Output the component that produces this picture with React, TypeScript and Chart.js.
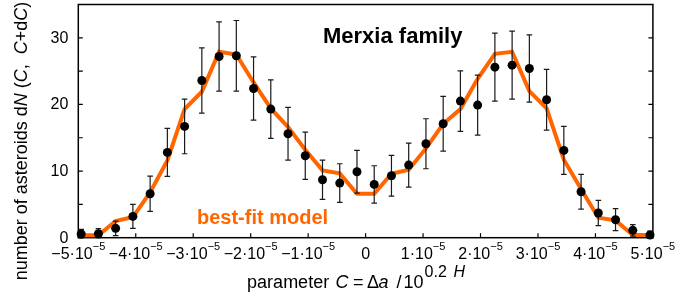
import React, { useEffect, useRef } from "react";
import { Chart, registerables } from "chart.js";

Chart.register(...registerables);

// bin centres, in units of 1e-5
const binCenters = [
  -4.95, -4.65, -4.35, -4.05, -3.75, -3.45, -3.15, -2.85, -2.55, -2.25, -1.95, -1.65,
  -1.35, -1.05, -0.75, -0.45, -0.15, 0.15, 0.45, 0.75, 1.05, 1.35, 1.65, 1.95, 2.25,
  2.55, 2.85, 3.15, 3.45, 3.75, 4.05, 4.35, 4.65, 4.95,
];
const observed = [
  0.55, 0.6, 1.4, 3.2, 6.6, 12.8, 16.7, 23.6, 27.2, 27.3, 22.4, 19.3, 15.6, 12.3, 8.7,
  8.2, 9.9, 8.0, 9.3, 10.9, 14.1, 17.1, 20.5, 19.9, 25.6, 25.9, 25.4, 20.7, 13.1, 6.9,
  3.7, 2.7, 1.1, 0.4,
];
const errors = [
  0.7, 0.75, 1.1, 1.8, 2.65, 3.6, 4.1, 4.9, 5.2, 5.3, 4.75, 4.4, 3.95, 3.55, 2.95, 2.9,
  3.2, 2.8, 3.05, 3.3, 3.75, 4.1, 4.55, 4.5, 5.1, 5.1, 5.05, 4.55, 3.6, 2.6, 1.9, 1.65,
  0.85, 0.6,
];
const model = [
  0.35, 0.35, 2.5, 3.1, 6.8, 11.6, 19.3, 21.9, 27.9, 27.5, 23.3, 19.4, 16.6, 13.2, 10.1,
  9.65, 6.6, 6.6, 9.6, 10.2, 13.4, 17.1, 19.3, 23.85, 27.6, 27.9, 22.0, 19.4, 11.7, 7.3,
  3.0, 2.6, 0.4, 0.4,
];

const xTickValues = [-5, -4, -3, -2, -1, 0, 1, 2, 3, 4, 5];
const xTickBase = ["\u22125\u00b710", "\u22124\u00b710", "\u22123\u00b710", "\u22122\u00b710", "\u22121\u00b710", "0", "1\u00b710", "2\u00b710", "3\u00b710", "4\u00b710", "5\u00b710"];
const xTickExp = ["\u22125", "\u22125", "\u22125", "\u22125", "\u22125", "", "\u22125", "\u22125", "\u22125", "\u22125", "\u22125"];
const yTickValues = [0, 10, 20, 30];
const yMinorValues = [5, 15, 25, 35];
const yTickLabels = ["0", "10", "20", "30"];

const titleText = "Merxia family";
const modelLabel = "best-fit model";

const FONT = '"Liberation Sans", Arial, Helvetica, sans-serif';
const ORANGE = "#ff6600";

type Seg = [string, string]; // text, font

function drawSegs(ctx: CanvasRenderingContext2D, segs: Seg[], x: number, y: number, align: "center" | "left") {
  let total = 0;
  const ws = segs.map(([t, f]) => {
    ctx.font = f;
    const w = ctx.measureText(t).width;
    total += w;
    return w;
  });
  let cx = align === "center" ? x - total / 2 : x;
  segs.forEach(([t, f], i) => {
    ctx.font = f;
    ctx.fillText(t, cx, y);
    cx += ws[i];
  });
}

const decor = {
  id: "decor",
  beforeDatasetsDraw(chart: any) {
    const { ctx, chartArea: a } = chart;
    ctx.save();
    ctx.strokeStyle = "#000";
    ctx.lineWidth = 1.5;
    ctx.strokeRect(a.left, a.top, a.right - a.left, a.bottom - a.top);
    ctx.restore();
  },
  beforeDatasetDraw(chart: any, args: any) {
    if (args.index !== 1) return;
    const { ctx, scales } = chart;
    const x = scales.x, y = scales.y;
    ctx.save();
    ctx.strokeStyle = "#1a1a1a";
    ctx.lineWidth = 1.2;
    binCenters.forEach((c, i) => {
      const px = x.getPixelForValue(c);
      const top = y.getPixelForValue(observed[i] + errors[i]);
      const bot = y.getPixelForValue(Math.max(0, observed[i] - errors[i]));
      ctx.beginPath();
      ctx.moveTo(px, top);
      ctx.lineTo(px, bot);
      ctx.moveTo(px - 2.8, top);
      ctx.lineTo(px + 2.8, top);
      ctx.moveTo(px - 2.8, bot);
      ctx.lineTo(px + 2.8, bot);
      ctx.stroke();
    });
    ctx.restore();
  },
  afterDraw(chart: any) {
    const { ctx, chartArea: a, scales } = chart;
    const x = scales.x, y = scales.y;
    ctx.save();
    ctx.strokeStyle = "#000";
    ctx.lineWidth = 1.2;
    const tl = 4.5;
    // y ticks (left and right, inward)
    [...yTickValues, ...yMinorValues].forEach((v) => {
      const py = y.getPixelForValue(v);
      ctx.beginPath();
      ctx.moveTo(a.left, py);
      ctx.lineTo(a.left + tl, py);
      ctx.moveTo(a.right, py);
      ctx.lineTo(a.right - tl, py);
      ctx.stroke();
    });
    // x ticks (bottom, inward)
    xTickValues.forEach((v) => {
      const px = x.getPixelForValue(v);
      ctx.beginPath();
      ctx.moveTo(px, a.bottom);
      ctx.lineTo(px, a.bottom - tl);
      ctx.stroke();
    });
    ctx.fillStyle = "#000";
    // y tick labels
    ctx.textAlign = "right";
    ctx.textBaseline = "middle";
    ctx.font = `16px ${FONT}`;
    yTickValues.forEach((v, i) => {
      ctx.fillText(yTickLabels[i], a.left - 10, y.getPixelForValue(v) + 0.5);
    });
    // x tick labels
    ctx.textAlign = "left";
    ctx.textBaseline = "alphabetic";
    xTickValues.forEach((v, i) => {
      const px = x.getPixelForValue(v);
      ctx.font = `16px ${FONT}`;
      const wb = ctx.measureText(xTickBase[i]).width;
      ctx.font = `11px ${FONT}`;
      const we = ctx.measureText(xTickExp[i]).width;
      const sx = px - (wb + we) / 2;
      ctx.font = `16px ${FONT}`;
      ctx.fillText(xTickBase[i], sx, 258.5);
      ctx.font = `11px ${FONT}`;
      ctx.fillText(xTickExp[i], sx + wb, 249.5);
    });
    // x axis title, laid out piece by piece relative to the plot centre
    const N = `18px ${FONT}`;
    const I = `italic 18px ${FONT}`;
    const SN = `16px ${FONT}`;
    const SI = `italic 16px ${FONT}`;
    const c0 = (a.left + a.right) / 2;
    const xl: [string, string, number, number][] = [
      ["parameter", N, -118.5, 287.5],
      ["C", I, -30, 287.5],
      ["=", N, -12.5, 287.5],
      ["\u0394", N, 1.5, 287.5],
      ["a", I, 13, 287.5],
      ["/", N, 31, 287.5],
      ["10", N, 38, 287.5],
      ["0.2", SN, 59, 276.5],
      ["H", SI, 88, 276.5],
    ];
    xl.forEach(([t, f, dx, by]) => {
      ctx.font = f;
      ctx.fillText(t, c0 + dx, by);
    });
    // y axis title
    ctx.save();
    ctx.translate(27, 141);
    ctx.rotate(-Math.PI / 2);
    drawSegs(ctx, [
      ["number of asteroids d", N], ["N", I], [" (", N], ["C", I], [",  ", N],
      ["C", I], ["+d", N], ["C", I], [")", N],
    ], 0, 0, "center");
    ctx.restore();
    // title and model label
    ctx.font = `bold 22px ${FONT}`;
    ctx.fillText(titleText, 323, 42.5);
    ctx.fillStyle = ORANGE;
    ctx.font = `bold 20px ${FONT}`;
    ctx.fillText(modelLabel, 197, 224);
    ctx.restore();
  },
};

export default function App() {
  const ref = useRef<HTMLCanvasElement | null>(null);
  useEffect(() => {
    if (!ref.current) return;
    const chart = new Chart(ref.current, {
      type: "scatter",
      data: {
        datasets: [
          {
            type: "line",
            label: "model",
            data: binCenters.map((c, i) => ({ x: c, y: model[i] })),
            borderColor: ORANGE,
            borderWidth: 4,
            pointRadius: 0,
            tension: 0,
            fill: false,
            clip: false,
            order: 1,
          } as any,
          {
            type: "scatter",
            label: "observed",
            data: binCenters.map((c, i) => ({ x: c, y: observed[i] })),
            backgroundColor: "#000",
            borderColor: "#000",
            pointRadius: 4.5,
            borderWidth: 0,
            clip: false,
            order: 0,
          } as any,
        ],
      },
      options: {
        animation: false,
        responsive: false,
        devicePixelRatio: 1,
        events: [],
        layout: { padding: { left: 78.3, right: 23.1, top: 0.5, bottom: 66.3 } },
        plugins: { legend: { display: false }, tooltip: { enabled: false } },
        scales: {
          x: { type: "linear", min: -5, max: 5, display: false },
          y: { type: "linear", min: 0, max: 35, display: false },
        },
      },
      plugins: [decor],
    });
    return () => chart.destroy();
  }, []);
  return (
    <div style={{ position: "absolute", left: 0, top: 0, width: 676, height: 304, background: "#fff" }}>
      <canvas ref={ref} width={676} height={304} style={{ display: "block" }} />
    </div>
  );
}
